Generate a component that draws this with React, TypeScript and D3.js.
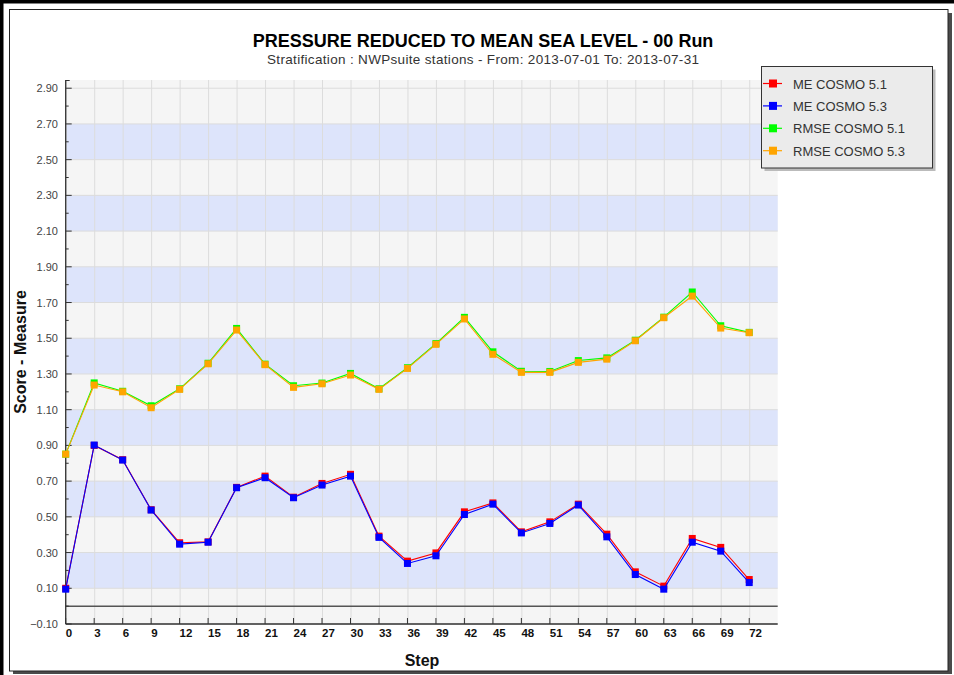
import React, { useEffect, useRef } from 'react';
import * as d3 from 'd3';

// forecast steps (hours)
const steps = [0, 3, 6, 9, 12, 15, 18, 21, 24, 27, 30, 33, 36, 39, 42, 45, 48, 51, 54, 57, 60, 63, 66, 69, 72];

const meCosmo51 = [0.1, 0.9, 0.82, 0.54, 0.355, 0.36, 0.665, 0.728, 0.61, 0.687, 0.738, 0.392, 0.252, 0.298, 0.528, 0.578, 0.416, 0.472, 0.571, 0.403, 0.192, 0.112, 0.379, 0.329, 0.149];
const meCosmo53 = [0.095, 0.902, 0.818, 0.538, 0.347, 0.358, 0.663, 0.719, 0.607, 0.678, 0.728, 0.385, 0.239, 0.282, 0.513, 0.571, 0.41, 0.463, 0.566, 0.388, 0.177, 0.095, 0.358, 0.308, 0.132];
const rmseCosmo51 = [0.851, 1.25, 1.203, 1.122, 1.217, 1.36, 1.555, 1.355, 1.234, 1.249, 1.303, 1.217, 1.335, 1.47, 1.617, 1.424, 1.315, 1.314, 1.375, 1.39, 1.489, 1.618, 1.759, 1.57, 1.533];
const rmseCosmo53 = [0.851, 1.238, 1.2, 1.111, 1.214, 1.357, 1.546, 1.352, 1.225, 1.245, 1.294, 1.214, 1.331, 1.466, 1.608, 1.41, 1.309, 1.309, 1.365, 1.383, 1.486, 1.615, 1.736, 1.557, 1.531];

const seriesNames = ['ME COSMO 5.1', 'ME COSMO 5.3', 'RMSE COSMO 5.1', 'RMSE COSMO 5.3'];
const seriesColors = ['#ff0000', '#0000ff', '#00ff00', '#ffa500'];
const seriesValues = [meCosmo51, meCosmo53, rmseCosmo51, rmseCosmo53];

const yTicks = d3.range(0, 16).map((i) => -0.1 + i * 0.2);

const title = 'PRESSURE REDUCED TO MEAN SEA LEVEL - 00 Run';
const subtitle = 'Stratification : NWPsuite stations - From: 2013-07-01 To: 2013-07-31';

const FONT = 'Liberation Sans, Arial, sans-serif';

const App: React.FC = () => {
  const svgRef = useRef<SVGSVGElement>(null);

  useEffect(() => {
    if (!svgRef.current) return;
    const svg = d3.select(svgRef.current);
    svg.selectAll('*').remove();

    const plot = { left: 65.7, right: 777.7, top: 80, bottom: 624 };

    const x = d3.scaleLinear().domain([0, 75]).range([plot.left, plot.right]);
    const y = d3.scaleLinear().domain([-0.1, 2.946]).range([plot.bottom, plot.top]);

    // outer frame
    svg.append('rect').attr('x', 13).attr('y', 13).attr('width', 939).attr('height', 661).attr('fill', '#4a4a4a');
    svg.append('rect').attr('x', 9.5).attr('y', 9.5).attr('width', 938.5).attr('height', 661.5)
      .attr('fill', '#fff').attr('stroke', '#222').attr('stroke-width', 1);
    svg.append('rect').attr('x', 0).attr('y', 0).attr('width', 954).attr('height', 3.5).attr('fill', '#000');
    svg.append('rect').attr('x', 0).attr('y', 0).attr('width', 3.5).attr('height', 675).attr('fill', '#000');

    // titles
    svg.append('text').attr('x', 483).attr('y', 46.5).attr('text-anchor', 'middle')
      .attr('font-family', FONT).attr('font-weight', 'bold').attr('font-size', 18)
      .attr('fill', '#000').text(title);
    svg.append('text').attr('x', 483).attr('y', 64).attr('text-anchor', 'middle')
      .attr('font-family', FONT).attr('font-size', 13.5).attr('fill', '#333')
      .attr('textLength', 432).attr('lengthAdjust', 'spacing').text(subtitle);

    // plot background with alternating bands
    svg.append('rect').attr('x', plot.left).attr('y', plot.top)
      .attr('width', plot.right - plot.left).attr('height', plot.bottom - plot.top).attr('fill', '#f5f5f5');
    const bands = yTicks.filter((d, i) => i % 2 === 1 && d < 2.8);
    svg.append('g').selectAll('rect').data(bands).enter().append('rect')
      .attr('x', plot.left)
      .attr('y', (d) => y(d + 0.2))
      .attr('width', plot.right - plot.left)
      .attr('height', (d) => y(d) - y(d + 0.2))
      .attr('fill', '#dde4fb');

    // grid
    svg.append('g').selectAll('line').data(steps).enter().append('line')
      .attr('x1', (d) => x(d) + 0.5).attr('x2', (d) => x(d) + 0.5)
      .attr('y1', plot.top).attr('y2', plot.bottom)
      .attr('stroke', '#dcdcdc').attr('stroke-width', 1);
    svg.append('g').selectAll('line').data(yTicks).enter().append('line')
      .attr('x1', plot.left).attr('x2', plot.right)
      .attr('y1', (d) => y(d)).attr('y2', (d) => y(d))
      .attr('stroke', '#dcdcdc').attr('stroke-width', 1);

    // zero line
    svg.append('line').attr('x1', plot.left).attr('x2', plot.right)
      .attr('y1', y(0)).attr('y2', y(0)).attr('stroke', '#555').attr('stroke-width', 1.5);

    // axes
    const axisColor = '#333';
    svg.append('line').attr('x1', plot.left).attr('x2', plot.left).attr('y1', plot.top).attr('y2', plot.bottom)
      .attr('stroke', axisColor).attr('stroke-width', 1.3);
    svg.append('line').attr('x1', plot.left).attr('x2', plot.left + 4).attr('y1', plot.top + 0.5).attr('y2', plot.top + 0.5)
      .attr('stroke', axisColor);
    svg.append('line').attr('x1', plot.left).attr('x2', plot.right).attr('y1', plot.bottom).attr('y2', plot.bottom)
      .attr('stroke', axisColor).attr('stroke-width', 1.3);

    // y ticks (major + minor), inside
    svg.append('g').selectAll('line').data(yTicks).enter().append('line')
      .attr('x1', plot.left).attr('x2', plot.left + 6)
      .attr('y1', (d) => y(d)).attr('y2', (d) => y(d))
      .attr('stroke', axisColor);
    svg.append('g').selectAll('line').data(yTicks.slice(0, -1).map((d) => d + 0.1)).enter().append('line')
      .attr('x1', plot.left).attr('x2', plot.left + 3)
      .attr('y1', (d) => y(d)).attr('y2', (d) => y(d))
      .attr('stroke', axisColor);
    svg.append('g').selectAll('text').data(yTicks).enter().append('text')
      .attr('x', 58).attr('y', (d) => y(d) + 4)
      .attr('text-anchor', 'end').attr('font-family', FONT).attr('font-size', 11).attr('fill', '#444')
      .text((d) => d3.format('.2f')(d));

    // x ticks
    svg.append('g').selectAll('line').data(steps).enter().append('line')
      .attr('x1', (d) => x(d)).attr('x2', (d) => x(d))
      .attr('y1', plot.bottom).attr('y2', plot.bottom - 6)
      .attr('stroke', axisColor);
    svg.append('g').selectAll('text').data(steps).enter().append('text')
      .attr('x', (d) => x(d)).attr('y', 637)
      .attr('font-family', FONT).attr('font-weight', 'bold').attr('font-size', 11.5).attr('fill', '#111')
      .text((d) => String(d));

    // axis titles
    svg.append('text').attr('x', 422).attr('y', 666).attr('text-anchor', 'middle')
      .attr('font-family', FONT).attr('font-weight', 'bold').attr('font-size', 16).attr('fill', '#111').text('Step');
    svg.append('text').attr('transform', `translate(26,${(plot.top + plot.bottom) / 2}) rotate(-90)`)
      .attr('text-anchor', 'middle').attr('font-family', FONT).attr('font-weight', 'bold').attr('font-size', 16)
      .attr('fill', '#111').text('Score - Measure');

    // series
    const line = d3.line<number>().x((_, i) => x(steps[i])).y((d) => y(d));
    seriesValues.forEach((vals, si) => {
      const g = svg.append('g');
      g.append('path').datum(vals).attr('d', line).attr('fill', 'none')
        .attr('stroke', seriesColors[si]).attr('stroke-width', 1.1);
      g.selectAll('rect').data(vals).enter().append('rect')
        .attr('x', (_, i) => x(steps[i]) - 3.5).attr('y', (d) => y(d) - 3.5)
        .attr('width', 7).attr('height', 7).attr('fill', seriesColors[si]);
    });

    // legend
    const lg = { x: 761.5, y: 66.5, w: 171, h: 101.5 };
    svg.append('rect').attr('x', lg.x + 3).attr('y', lg.y + 3).attr('width', lg.w).attr('height', lg.h).attr('fill', '#bbb');
    svg.append('rect').attr('x', lg.x).attr('y', lg.y).attr('width', lg.w).attr('height', lg.h)
      .attr('fill', '#ebebeb').attr('stroke', '#333').attr('stroke-width', 1);
    const items = svg.append('g').selectAll('g').data(seriesNames).enter().append('g')
      .attr('transform', (_, i) => `translate(0,${83.5 + i * 22.4})`);
    items.append('line').attr('x1', 763).attr('x2', 782).attr('y1', 0).attr('y2', 0)
      .attr('stroke', (_, i) => seriesColors[i]).attr('stroke-width', 1.2);
    items.append('rect').attr('x', 769).attr('y', -4).attr('width', 8).attr('height', 8)
      .attr('fill', (_, i) => seriesColors[i]);
    items.append('text').attr('x', 793).attr('y', 5).attr('font-family', FONT).attr('font-size', 13)
      .attr('fill', '#333').text((d) => d);
  }, []);

  return (
    <div style={{ position: 'absolute', left: 0, top: 0 }}>
      <svg ref={svgRef} width={954} height={675} style={{ display: 'block', background: '#fff' }} />
    </div>
  );
};

export default App;
